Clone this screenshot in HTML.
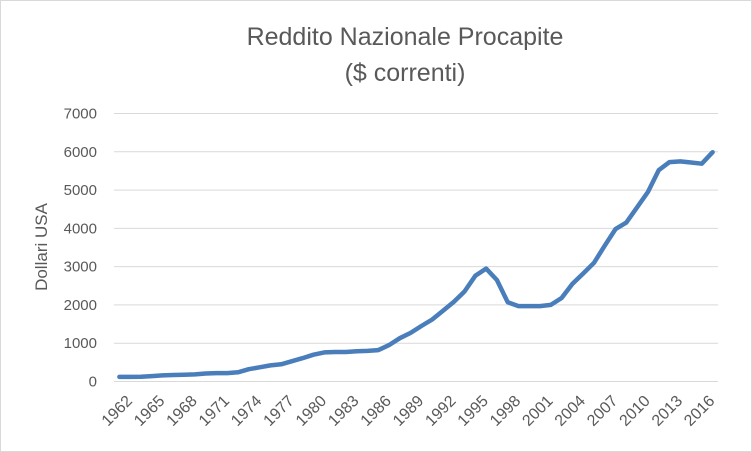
<!DOCTYPE html>
<html><head><meta charset="utf-8"><style>
body{margin:0;background:#fff;font-family:"Liberation Sans",sans-serif}
svg{display:block}
</style></head><body>
<svg width="752" height="452">
<rect x="0.5" y="0.5" width="751" height="451" fill="#fff" stroke="#d9d9d9"/>
<text x="405" y="45" text-anchor="middle" font-size="25" fill="#595959">Reddito Nazionale Procapite</text>
<text x="405" y="81" text-anchor="middle" font-size="25" fill="#595959">($ correnti)</text>
<text transform="translate(47,247) rotate(-90)" text-anchor="middle" font-size="17" fill="#595959">Dollari USA</text>
<g id="grid"></g><g id="yt"></g><g id="xt"></g>
<path id="line" fill="none" stroke="#4a7ebb" stroke-width="4.5" stroke-linejoin="round" stroke-linecap="round"/>
</svg>
<script>
const years=[];for(let y=1962;y<=2017;y++)years.push(y);
const values=[120,120,125,140,160,170,175,185,210,220,220,240,320,370,420,450,530,610,700,760,770,770,790,800,820,950,1130,1270,1450,1620,1850,2080,2350,2760,2950,2650,2070,1970,1970,1970,2000,2180,2550,2820,3100,3550,3980,4150,4550,4950,5520,5730,5750,5720,5690,5990];
const yTicks=[0,1000,2000,3000,4000,5000,6000,7000];
const x0=114,x1=718,y0=381.5,yMax=7000,yTop=113.5;
const step=(x1-x0)/years.length;
const X=i=>x0+step*(i+0.5);
const Y=v=>y0-(v/yMax)*(y0-yTop);
const ns="http://www.w3.org/2000/svg";
const g=document.getElementById('grid'),yt=document.getElementById('yt'),xt=document.getElementById('xt');
yTicks.forEach(t=>{
 const l=document.createElementNS(ns,'line');
 
 
 l.setAttribute('x1',x0);l.setAttribute('x2',x1);l.setAttribute('y1',Y(t));l.setAttribute('y2',Y(t));
 l.setAttribute('stroke','#d9d9d9');l.setAttribute('stroke-width','1');g.appendChild(l);
 const tx=document.createElementNS(ns,'text');
 
 
 tx.setAttribute('x',97);tx.setAttribute('y',Y(t)+5);tx.setAttribute('text-anchor','end');
 tx.setAttribute('font-size','15');tx.setAttribute('fill','#595959');tx.textContent=t;yt.appendChild(tx);
});
years.forEach((yr,i)=>{
 if((yr-1962)%3)return;
 const tx=document.createElementNS(ns,'text');
 
 
 const x=X(i)+6,y=394;
 tx.setAttribute('transform',`translate(${x},${y}) rotate(-45)`);
 tx.setAttribute('text-anchor','end');tx.setAttribute('dy','11');
 tx.setAttribute('font-size','16');tx.setAttribute('fill','#595959');tx.textContent=yr;xt.appendChild(tx);
});
document.getElementById('line').setAttribute('d',values.map((v,i)=>(i?'L':'M')+X(i).toFixed(1)+','+Y(v).toFixed(1)).join(''));
</script>
</body></html>
